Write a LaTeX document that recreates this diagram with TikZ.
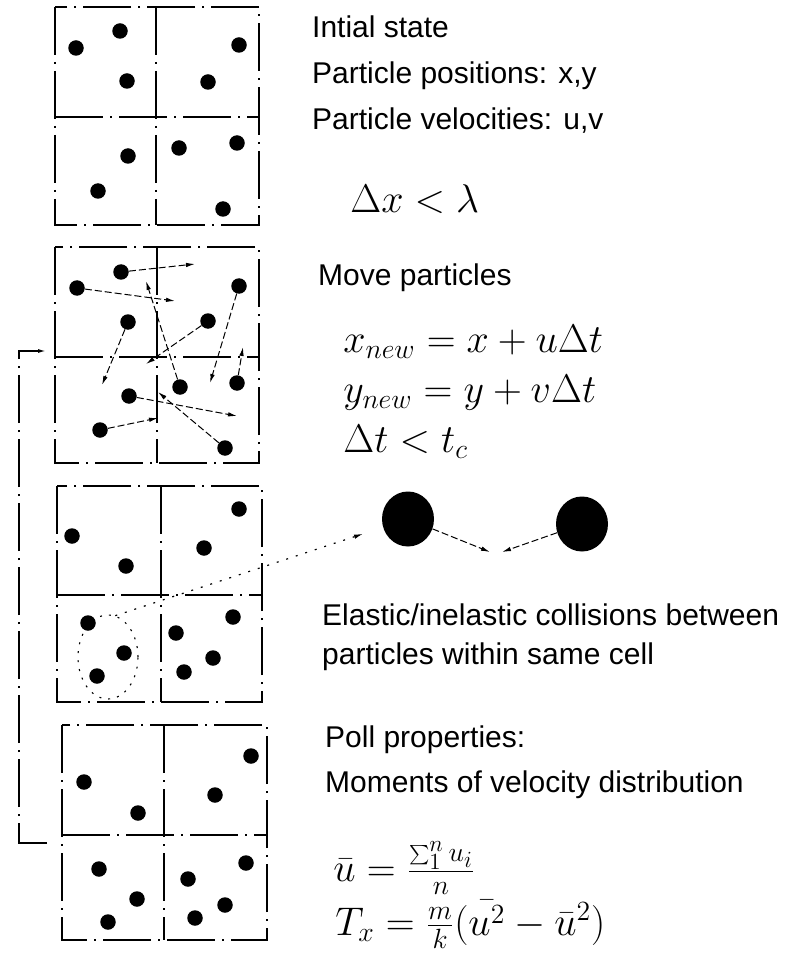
\documentclass[tikz,border=0pt]{standalone}
\usepackage{fontspec}
\setmainfont{Liberation Sans}
\usetikzlibrary{arrows.meta,shapes.geometric}
\newcommand{\cellgrid}[6]{%
  \draw[gridline] (#1,#3) rectangle (#2,#4);
  \draw[gridline] (#5,#3) -- (#5,#4);
  \draw[gridline] (#1,#6) -- (#2,#6);
}
\begin{document}
\begin{tikzpicture}[x=1pt,y=-1pt,
  gridline/.style={line width=1.3pt, dash pattern=on 48pt off 7pt on 2pt off 7pt},
  particle/.style={circle, fill=black, inner sep=0pt, minimum size=15.5pt},
  bigparticle/.style={ellipse, fill=black, inner sep=0pt, minimum width=52pt, minimum height=55pt},
  move/.style={line width=1pt, dash pattern=on 7pt off 3pt, -{Latex[length=9pt,width=4.5pt]}},
  dottedarrow/.style={line width=1.2pt, dash pattern=on 2pt off 8pt, -{Latex[length=9pt,width=4.5pt]}},
  lbl/.style={anchor=base west, inner sep=0pt, font=\fontsize{30}{36}\selectfont},
  eq/.style={anchor=base west, inner sep=0pt, font=\fontsize{20.74}{25}\selectfont, scale=1.93, transform shape},
]
\useasboundingbox (0,0) rectangle (786,957);

% ---------- panel 1: initial state ----------
\cellgrid{55}{259}{7}{225}{156}{117}
\foreach \x/\y [count=\i] in {76/48,120/31,127/81,239/45,208/82,128/156,98/191,179/148,237/143,223/209}
  \node[particle] (a\i) at (\x,\y) {};

% ---------- panel 2: move particles ----------
\cellgrid{55}{259}{247}{463}{157}{357}
\foreach \x/\y [count=\i] in {121/272,77/288,239/286,128/322,208/321,180/387,237/383,129/396,100/430,225/448}
  \node[particle] (m\i) at (\x,\y) {};
\coordinate (v1) at (195,264);
\coordinate (v2) at (175,301);
\coordinate (v3) at (210,383);
\coordinate (v4) at (102,385);
\coordinate (v5) at (146,364);
\coordinate (v6) at (146,281);
\coordinate (v7) at (243,347);
\coordinate (v8) at (237,416);
\coordinate (v9) at (158,418);
\coordinate (v10) at (158,392);
\foreach \i in {1,...,10}
  \draw[move] (m\i) -- (v\i);

% ---------- panel 3: collisions ----------
\cellgrid{57}{262}{486}{702}{161}{595}
\foreach \x/\y [count=\i] in {72/536,126/566,239/509,204/548,88/623,124/653,97/676,176/633,233/617,213/658,184/672}
  \node[particle] (c\i) at (\x,\y) {};
\node[ellipse, draw, line width=1.1pt, dash pattern=on 2pt off 7pt,
      minimum width=60pt, minimum height=84pt, inner sep=0pt] (cluster) at (108,657) {};
\node[bigparticle] (big1) at (408,519) {};
\node[bigparticle] (big2) at (582,524) {};
\draw[dottedarrow, shorten >=21pt] (cluster.80) -- (big1);
\coordinate (hit1) at (490,552);
\coordinate (hit2) at (502,552);
\draw[move] (big1) -- (hit1);
\draw[move] (big2) -- (hit2);

% ---------- panel 4: poll properties ----------
\cellgrid{62}{267}{725}{940}{164}{835}
\foreach \x/\y [count=\i] in {84/782,138/813,251/756,215/795,99/869,137/899,108/922,188/879,246/863,225/905,195/918}
  \node[particle] (q\i) at (\x,\y) {};

% ---------- feedback loop ----------
\coordinate (fbstart) at (47,843);
\coordinate (fbend) at (46,351);
\draw[gridline, -{Latex[length=8pt,width=4pt]}] (fbstart) -- ++(-28,0) |- (fbend);

% ---------- texts ----------
\node[lbl] (t1) at (312,38) {Intial state};
\node[lbl] (t2) at (312,84) {Particle positions: x,y};
\node[lbl] (t3) at (312,130) {Particle velocities: u,v};
\node[eq] (e1) at (350,213) {$\Delta x < \lambda$};
\node[lbl] (t4) at (318,285) {Move particles};
\node[eq] (e2) at (343,352) {$x_{new} = x + u\Delta t$};
\node[eq] (e3) at (343,402) {$y_{new} = y + v\Delta t$};
\node[eq] (e4) at (343,452) {$\Delta t < t_c$};
\node[lbl] (t5) at (322,625) {Elastic/inelastic collisions between};
\node[lbl] (t6) at (322,664) {particles within same cell};
\node[lbl] (t7) at (325,747) {Poll properties:};
\node[lbl] (t8) at (325,792) {Moments of velocity distribution};
\node[eq] (e5) at (333,881) {$\bar{u} = \frac{\sum_1^n u_i}{n}$};
\node[eq] (e6) at (335,935) {$T_x = \frac{m}{k}(\bar{u^2} - \bar{u}^2)$};
\end{tikzpicture}
\end{document}
